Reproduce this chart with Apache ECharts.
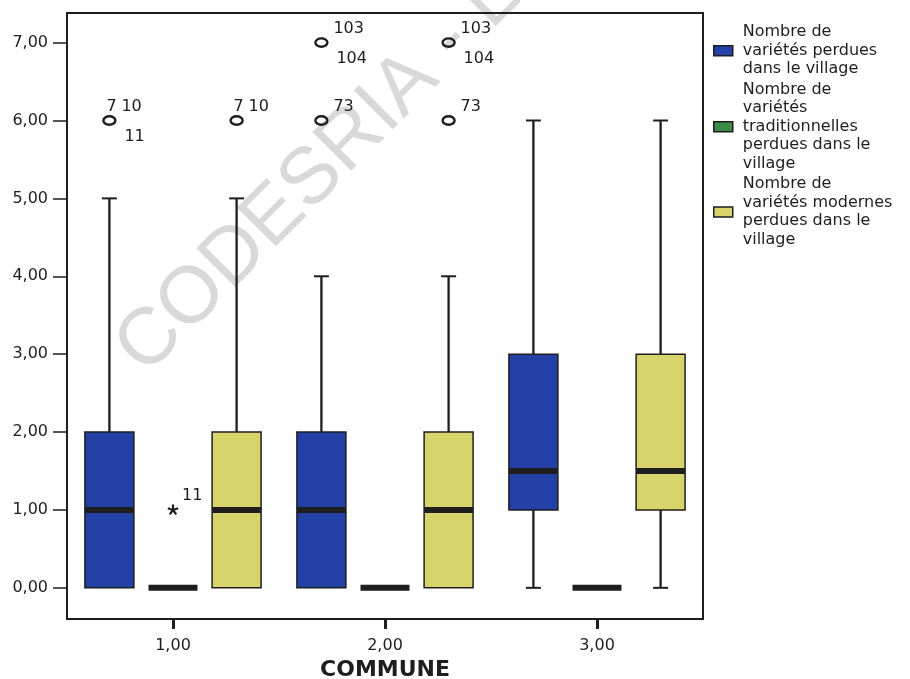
<!DOCTYPE html>
<html>
<head>
<meta charset="utf-8">
<script src="https://cdn.jsdelivr.net/npm/echarts@6/dist/echarts.min.js"></script>
<style>
  html, body { margin: 0; padding: 0; background: #ffffff; }
  #chart { width: 910px; height: 679px; }
</style>
</head>
<body>
<div id="chart"></div>
<script>
// Categories and tick values
const communes = ['1,00', '2,00', '3,00'];
const yTicks = [0, 1, 2, 3, 4, 5, 6, 7];

// Series names (legend labels)
const namePerdues = 'Nombre de\nvariétés perdues\ndans le village';
const nameTrad = 'Nombre de\nvariétés\ntraditionnelles\nperdues dans le\nvillage';
const nameModernes = 'Nombre de\nvariétés modernes\nperdues dans le\nvillage';

// Five-number summaries per commune: [commune index, min, Q1, median, Q3, max]
const perduesStats = [[0, 0, 0, 1, 2, 5], [1, 0, 0, 1, 2, 4], [2, 0, 1, 1.5, 3, 6]];
const tradStats = [[0, 0, 0, 0, 0, 0], [1, 0, 0, 0, 0, 0], [2, 0, 0, 0, 0, 0]];
const modernesStats = [[0, 0, 0, 1, 2, 5], [1, 0, 0, 1, 2, 4], [2, 0, 1, 1.5, 3, 6]];

// Outliers (circles): [commune index, value, case labels above, case labels below]
const perduesOutliers = [[0, 6, ['7', '10'], ['11']], [1, 6, ['73'], []], [1, 7, ['103'], ['104']]];
const modernesOutliers = [[0, 6, ['7', '10'], []], [1, 6, ['73'], []], [1, 7, ['103'], ['104']]];
// Extreme values (asterisks)
const tradExtremes = [[0, 1, ['11'], []]];

const colPerdues = '#2340a6';
const colTrad = '#3c8c46';
const colModernes = '#d8d46c';
const ink = '#1e1e1e';
const smallFont = '16px "DejaVu Sans"';

// slot: -1 left, 0 centre, 1 right within each commune band
function boxRenderer(slot, color) {
  return function (params, api) {
    const ci = api.value(0);
    const band = api.size([1, 0])[0];
    const cx = api.coord([ci, 0])[0] + slot * band * 0.3;
    const w = band * 0.231;
    const capW = 15;
    const yMin = api.coord([ci, api.value(1)])[1];
    const yQ1 = api.coord([ci, api.value(2)])[1];
    const yMed = api.coord([ci, api.value(3)])[1];
    const yQ3 = api.coord([ci, api.value(4)])[1];
    const yMax = api.coord([ci, api.value(5)])[1];
    const children = [];
    const wStyle = { stroke: ink, lineWidth: 2.3 };
    if (yMax < yQ3 - 0.5) {
      children.push({ type: 'line', shape: { x1: cx, y1: yMax, x2: cx, y2: yQ3 }, style: wStyle });
      children.push({ type: 'line', shape: { x1: cx - capW / 2, y1: yMax, x2: cx + capW / 2, y2: yMax }, style: { stroke: ink, lineWidth: 2 } });
    }
    if (yMin > yQ1 + 0.5) {
      children.push({ type: 'line', shape: { x1: cx, y1: yQ1, x2: cx, y2: yMin }, style: wStyle });
      children.push({ type: 'line', shape: { x1: cx - capW / 2, y1: yMin, x2: cx + capW / 2, y2: yMin }, style: { stroke: ink, lineWidth: 2 } });
    }
    if (yQ1 - yQ3 > 0.5) {
      children.push({ type: 'rect', shape: { x: cx - w / 2, y: yQ3, width: w, height: yQ1 - yQ3 },
        style: { fill: color, stroke: ink, lineWidth: 1.5 } });
    }
    children.push({ type: 'line', shape: { x1: cx - w / 2, y1: yMed, x2: cx + w / 2, y2: yMed },
      style: { stroke: ink, lineWidth: 6 } });
    return { type: 'group', children: children };
  };
}

function pointRenderer(slot, list, asStar) {
  return function (params, api) {
    const item = list[params.dataIndex];
    const ci = api.value(0);
    const band = api.size([1, 0])[0];
    const cx = api.coord([ci, 0])[0] + slot * band * 0.3;
    const cy = api.coord([ci, api.value(1)])[1];
    const children = [];
    if (asStar) {
      const r = 5.5;
      for (let k = 0; k < 5; k++) {
        const a = (-90 + k * 72) * Math.PI / 180;
        children.push({ type: 'line', shape: { x1: cx, y1: cy, x2: cx + r * Math.cos(a), y2: cy + r * Math.sin(a) },
          style: { stroke: ink, lineWidth: 2.2 } });
      }
    } else {
      children.push({ type: 'ellipse', shape: { cx: cx, cy: cy, rx: 6, ry: 4.2 },
        style: { fill: 'none', stroke: ink, lineWidth: 2.4 } });
    }
    const above = item[2];
    const below = item[3];
    above.forEach(function (t, k) {
      const last = k === above.length - 1;
      children.push({ type: 'text', style: { text: t, x: last ? cx + (asStar ? 9 : 12) : cx - 3, y: cy - 14,
        fill: ink, font: smallFont, align: 'left', verticalAlign: 'middle' } });
    });
    below.forEach(function (t) {
      children.push({ type: 'text', style: { text: t, x: cx + 15, y: cy + 16,
        fill: ink, font: smallFont, align: 'left', verticalAlign: 'middle' } });
    });
    return { type: 'group', children: children };
  };
}

const chart = echarts.init(document.getElementById('chart'), null, { renderer: 'canvas' });

const boxEncode = { x: 0, y: [1, 2, 3, 4, 5] };

chart.setOption({
  animation: false,
  backgroundColor: '#ffffff',
  graphic: [{
    type: 'text',
    z: -10,
    x: 130,
    y: 361,
    rotation: 45 * Math.PI / 180,
    silent: true,
    style: { text: 'CODESRIA - LIBRARY', font: '80px "Liberation Sans"', fill: '#d9d9d9',
      align: 'left', verticalAlign: 'middle' }
  }],
  grid: { left: 67, right: 207, top: 13, bottom: 60, show: true, borderColor: ink, borderWidth: 2,
    backgroundColor: 'transparent', outerBoundsMode: 'none', containLabel: false },
  legend: {
    orient: 'vertical',
    left: 713,
    top: 23,
    padding: 0,
    itemGap: 2,
    itemWidth: 19,
    itemHeight: 10,
    selectedMode: false,
    textStyle: { fontFamily: 'DejaVu Sans', fontSize: 16, lineHeight: 18.5, color: ink, padding: [0, 0, 0, 5] },
    data: [
      { name: namePerdues, icon: 'rect', itemStyle: { color: colPerdues, borderColor: ink, borderWidth: 1.5 } },
      { name: nameTrad, icon: 'rect', itemStyle: { color: colTrad, borderColor: ink, borderWidth: 1.5 } },
      { name: nameModernes, icon: 'rect', itemStyle: { color: colModernes, borderColor: ink, borderWidth: 1.5 } }
    ]
  },
  xAxis: {
    type: 'category',
    data: communes,
    name: 'COMMUNE',
    nameLocation: 'middle',
    nameGap: 40,
    nameTextStyle: { fontFamily: 'DejaVu Sans', fontWeight: 'bold', fontSize: 22, color: ink },
    axisLine: { show: true, onZero: false, lineStyle: { color: ink, width: 2 } },
    axisTick: { show: true, alignWithLabel: true, length: 10, lineStyle: { color: ink, width: 3 } },
    axisLabel: { margin: 19, fontFamily: 'DejaVu Sans', fontSize: 16, color: ink },
    splitLine: { show: false }
  },
  yAxis: {
    type: 'value',
    min: -0.4,
    max: 7.38,
    axisLine: { show: true, onZero: false, lineStyle: { color: ink, width: 2 } },
    axisTick: { show: true, length: 14, customValues: yTicks, lineStyle: { color: ink, width: 1.5 } },
    axisLabel: { margin: 19, customValues: yTicks, fontFamily: 'DejaVu Sans', fontSize: 16, color: ink,
      formatter: function (v) { return v.toFixed(2).replace('.', ','); } },
    splitLine: { show: false }
  },
  series: [
    { type: 'custom', name: namePerdues, itemStyle: { color: colPerdues }, encode: boxEncode,
      data: perduesStats, renderItem: boxRenderer(-1, colPerdues), z: 3 },
    { type: 'custom', name: nameTrad, itemStyle: { color: colTrad }, encode: boxEncode,
      data: tradStats, renderItem: boxRenderer(0, colTrad), z: 3 },
    { type: 'custom', name: nameModernes, itemStyle: { color: colModernes }, encode: boxEncode,
      data: modernesStats, renderItem: boxRenderer(1, colModernes), z: 3 },
    { type: 'custom', name: 'outliers-perdues', encode: { x: 0, y: 1 },
      data: perduesOutliers.map(function (o) { return [o[0], o[1]]; }),
      renderItem: pointRenderer(-1, perduesOutliers, false), z: 4 },
    { type: 'custom', name: 'extremes-trad', encode: { x: 0, y: 1 },
      data: tradExtremes.map(function (o) { return [o[0], o[1]]; }),
      renderItem: pointRenderer(0, tradExtremes, true), z: 4 },
    { type: 'custom', name: 'outliers-modernes', encode: { x: 0, y: 1 },
      data: modernesOutliers.map(function (o) { return [o[0], o[1]]; }),
      renderItem: pointRenderer(1, modernesOutliers, false), z: 4 }
  ]
});
</script>
</body>
</html>
